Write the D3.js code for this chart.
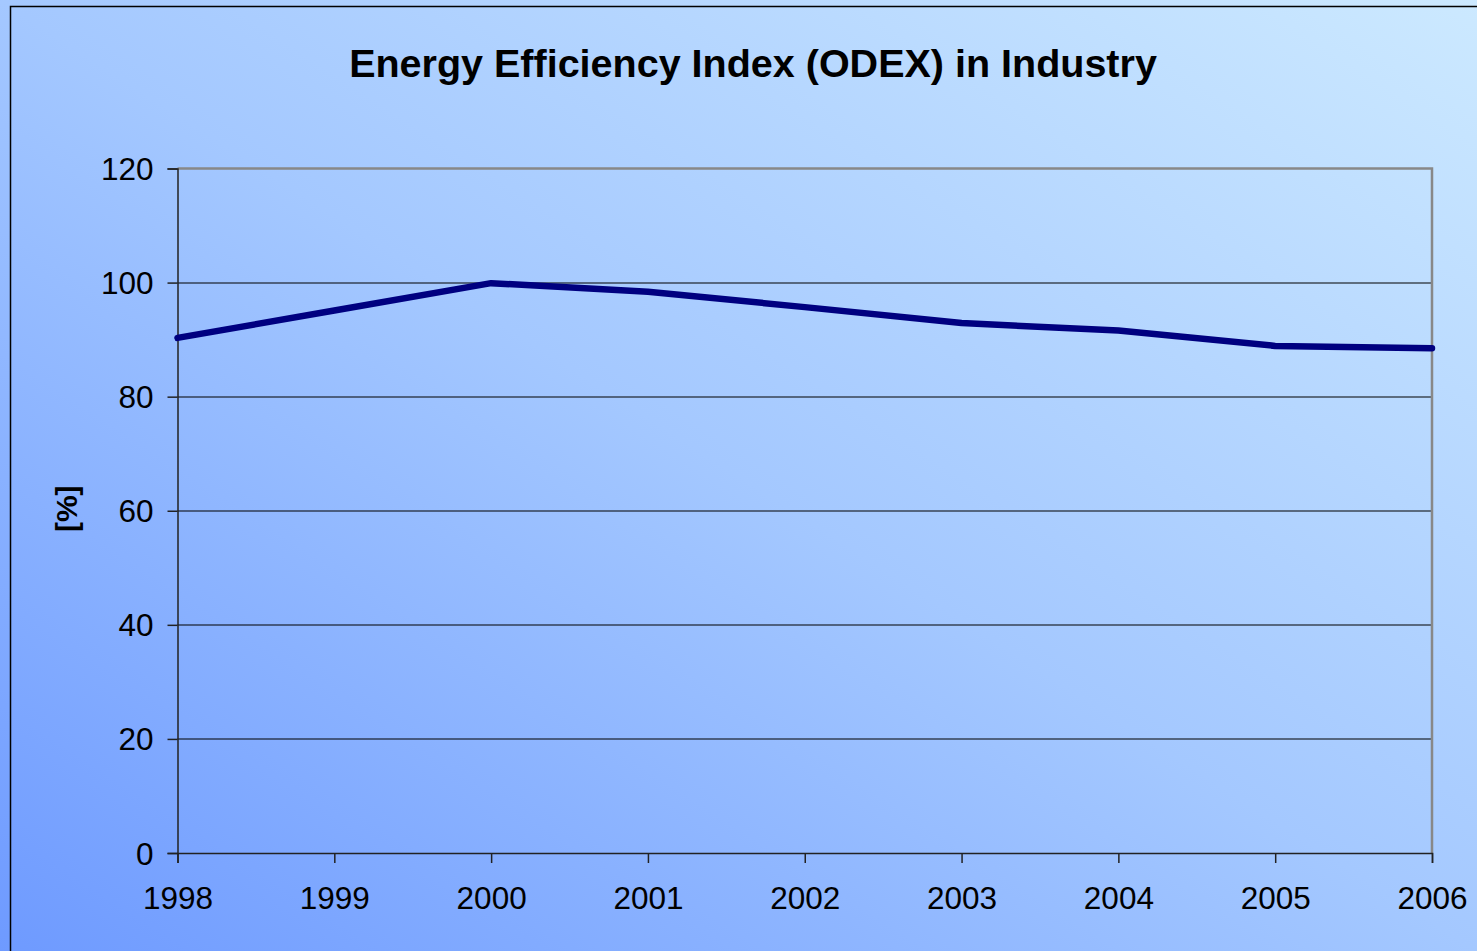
<!DOCTYPE html>
<html>
<head>
<meta charset="utf-8">
<script src="https://cdn.jsdelivr.net/npm/d3@7"></script>
<style>
  body { margin: 0; overflow: hidden; }
  svg { display: block; font-family: "Liberation Sans", Arial, sans-serif; }
</style>
</head>
<body>
<svg id="chart" width="1477" height="951"></svg>
<script>
const years = [1998, 1999, 2000, 2001, 2002, 2003, 2004, 2005, 2006];
const odex = [90.3, 95.1, 99.9, 98.4, 95.7, 92.9, 91.6, 88.9, 88.5];
const yTicks = [0, 20, 40, 60, 80, 100, 120];
const title = 'Energy Efficiency Index (ODEX) in Industry';
const yLabel = '[%]';

const svg = d3.select('#chart'),
      width = +svg.attr('width'),
      height = +svg.attr('height');

const margin = {top: 168.5, right: 45, bottom: 98, left: 177.5};
const plotW = width - margin.left - margin.right,
      plotH = height - margin.top - margin.bottom;

// background gradient, light top-right to deeper blue bottom-left
const defs = svg.append('defs');
const grad = defs.append('linearGradient')
  .attr('id', 'bg')
  .attr('x1', '0%').attr('y1', '100%')
  .attr('x2', '100%').attr('y2', '0%');
grad.append('stop').attr('offset', '0%').attr('stop-color', '#6e9aff');
grad.append('stop').attr('offset', '50%').attr('stop-color', '#a4c8ff');
grad.append('stop').attr('offset', '100%').attr('stop-color', '#cce9ff');

svg.append('rect')
  .attr('width', width).attr('height', height)
  .attr('fill', 'url(#bg)');

// outer chart border (runs off the right and bottom edges)
svg.append('rect')
  .attr('x', 10.5).attr('y', 6.5)
  .attr('width', width + 20).attr('height', height + 20)
  .attr('fill', 'none')
  .attr('stroke', '#000')
  .attr('stroke-width', 1.5);

svg.append('text')
  .attr('x', 753).attr('y', 77)
  .attr('text-anchor', 'middle')
  .attr('font-size', 39.5)
  .attr('font-weight', 'bold')
  .text(title);

const x = d3.scalePoint().domain(years).range([0, plotW]);
const y = d3.scaleLinear().domain([0, 120]).range([plotH, 0]);

const g = svg.append('g').attr('transform', 'translate(' + margin.left + ',' + margin.top + ')');

// gridlines
g.append('g')
  .selectAll('line')
  .data(yTicks.filter(d => d > 0 && d < 120))
  .enter().append('line')
    .attr('x1', 0).attr('x2', plotW)
    .attr('y1', d => Math.round(y(d)) + 0.5).attr('y2', d => Math.round(y(d)) + 0.5)
    .attr('stroke', '#000')
    .attr('stroke-width', 1.2);

// top and right frame in grey
g.append('path')
  .attr('d', 'M0,0H' + plotW + 'V' + plotH)
  .attr('fill', 'none')
  .attr('stroke', '#888')
  .attr('stroke-width', 2.5);

const yAxis = g.append('g')
  .call(d3.axisLeft(y).tickValues(yTicks).tickSize(10).tickPadding(14));
const xAxis = g.append('g')
  .attr('transform', 'translate(0,' + plotH + ')')
  .call(d3.axisBottom(x).tickSize(10).tickPadding(24));

[yAxis, xAxis].forEach(a => {
  a.select('.domain').attr('stroke', '#222').attr('stroke-width', 1.5);
  a.selectAll('.tick line').attr('stroke', '#222').attr('stroke-width', 1.5);
  a.selectAll('.tick text')
    .attr('fill', '#000')
    .attr('font-size', 31.5)
    .attr('font-family', '"Liberation Sans", Arial, sans-serif');
});
yAxis.selectAll('.tick text').attr('dy', '0.35em');

svg.append('text')
  .attr('transform', 'translate(77,' + (margin.top + plotH / 2 - 2) + ') rotate(-90)')
  .attr('text-anchor', 'middle')
  .attr('font-size', 30)
  .attr('font-weight', 'bold')
  .text(yLabel);

const line = d3.line()
  .x((d, i) => x(years[i]))
  .y(d => y(d));

g.append('path')
  .datum(odex)
  .attr('d', line)
  .attr('fill', 'none')
  .attr('stroke', '#000080')
  .attr('stroke-width', 6.5)
  .attr('stroke-linecap', 'round')
  .attr('stroke-linejoin', 'round');
</script>
</body>
</html>
